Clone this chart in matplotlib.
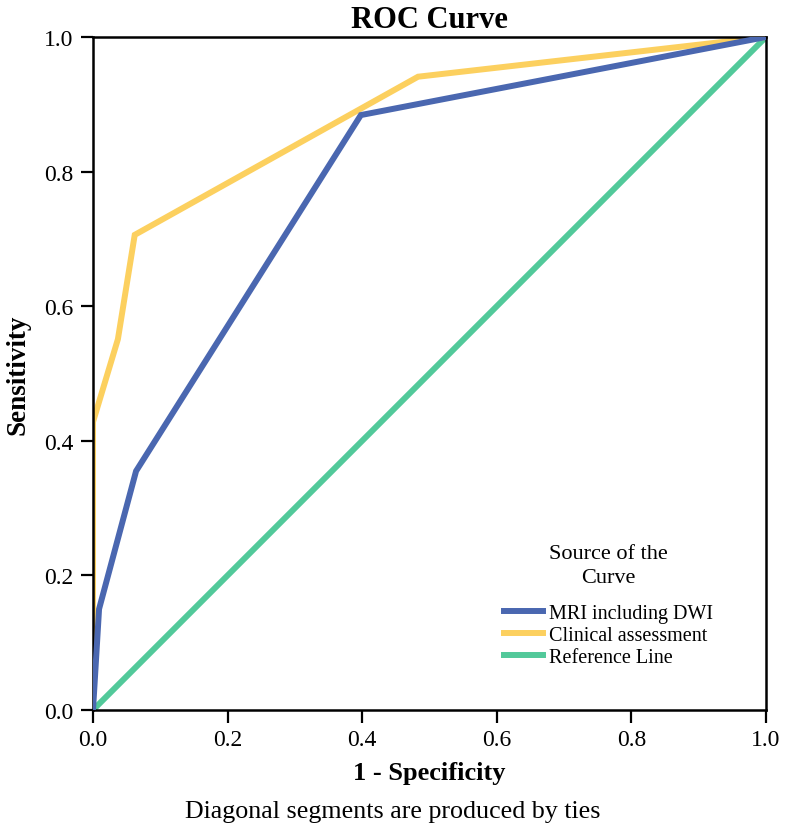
import matplotlib.pyplot as plt

# ROC points
mri_fpr = [0.0, 0.009, 0.064, 0.398, 1.0]
mri_tpr = [0.0, 0.150, 0.355, 0.884, 1.0]
clin_fpr = [0.0, 0.0, 0.037, 0.062, 0.483, 1.0]
clin_tpr = [0.0, 0.428, 0.551, 0.706, 0.941, 1.0]
ref_x = [0.0, 1.0]
ref_y = [0.0, 1.0]

ticks = [0.0, 0.2, 0.4, 0.6, 0.8, 1.0]
tick_labels = ['0.0', '0.2', '0.4', '0.6', '0.8', '1.0']

plt.rcParams['font.family'] = ['Liberation Serif', 'DejaVu Serif']

fig = plt.figure(figsize=(7.86, 8.37), dpi=100)
ax = fig.add_axes([93 / 786, 1 - 711 / 837, 673 / 786, 673 / 837])

ax.plot(mri_fpr, mri_tpr, color='#4a67b0', lw=4.3, label='MRI including DWI',
        solid_joinstyle='miter', zorder=3)
ax.plot(clin_fpr, clin_tpr, color='#fcd05f', lw=4.3, label='Clinical assessment',
        solid_joinstyle='miter', zorder=2)
ax.plot(ref_x, ref_y, color='#52c99a', lw=4.3, label='Reference Line', zorder=1)

ax.set_xlim(0, 1)
ax.set_ylim(0, 1)
ax.set_xticks(ticks)
ax.set_xticklabels(tick_labels)
ax.set_yticks(ticks)
ax.set_yticklabels(tick_labels)
ax.tick_params(labelsize=17, length=9, width=1.6, direction='out', pad=5)
for s in ax.spines.values():
    s.set_linewidth(1.8)

ax.set_title('ROC Curve', fontsize=22, fontweight='bold', pad=7)
ax.set_xlabel('1 - Specificity', fontsize=19, fontweight='bold')
ax.set_ylabel('Sensitivity', fontsize=19.5, fontweight='bold')
ax.xaxis.set_label_coords(0.5, -0.076)
ax.yaxis.set_label_coords(-0.093, 0.5)

leg = ax.legend(title='Source of the\nCurve', loc='center', bbox_to_anchor=(0.766, 0.155),
                frameon=False, fontsize=14.5, title_fontsize=16, handlelength=1.9,
                handletextpad=0.3, labelspacing=0.15)
leg.get_title().set_multialignment('center')
leg.get_title().set_linespacing(1.35)
leg._legend_box.align = 'center'
leg._legend_box.sep = 12

fig.text(0.5, (837 - 818) / 837, 'Diagonal segments are produced by ties', ha='center',
         va='baseline', fontsize=18.7)

fig.savefig('out.png', dpi=100)
